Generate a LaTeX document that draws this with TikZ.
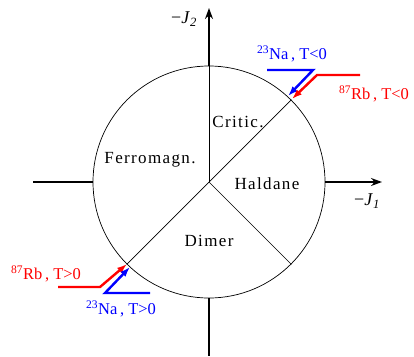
\documentclass[tikz,border=0pt]{standalone}
\usepackage{fontspec}
\setmainfont{Liberation Serif}
\usetikzlibrary{arrows.meta}
\tikzset{
  axis/.style={line width=1.5pt, black},
  axisarrow/.style={axis, -{Stealth[length=11pt,width=8pt]}},
  thin/.style={line width=0.7pt, black},
  phase/.style={font=\fontsize{17}{17}\selectfont\addfontfeatures{LetterSpace=8}, inner sep=0pt},
  lbl/.style={font=\fontsize{16.5}{16.5}\selectfont, inner sep=0pt},
  axlbl/.style={font=\fontsize{18}{18}\selectfont, inner sep=0pt},
  colarrow/.style={line width=2.4pt, -{Latex[length=10pt,width=7pt]}},
}
\begin{document}
\begin{tikzpicture}[x=1pt,y=-1pt]
\useasboundingbox (0,0) rectangle (414,356);
\coordinate (O) at (209,182);
\node[draw, thin, circle, minimum size=232pt, inner sep=0pt] (C) at (O) {};
% axes
\coordinate (xl) at (33,182);
\coordinate (xr) at (382,182);
\coordinate (yt) at (209,8);
\coordinate (yb) at (209,356);
\draw[axis] (xl) -- (C.west);
\draw[axisarrow] (C.east) -- (xr);
\draw[axis] (C.south) -- (yb);
\draw[axisarrow] (C.north) -- (yt);
% phase boundaries
\draw[thin] (O) -- (C.north);
\draw[thin] (C.south west) -- (C.north east);
\draw[thin] (O) -- (C.south east);
% phase labels
\node[phase] (crit) at (238,122) {Critic.};
\node[phase] (ferro) at (150,160) {Ferromagn.};
\node[phase] (hald) at (267,184) {Haldane};
\node[phase] (dim) at (209,241) {Dimer};
% axis labels
\node[axlbl] (j2) at (184,19) {−\textit{J}\textsubscript{\textit{2}}};
\node[axlbl] (j1) at (367,201) {−\textit{J}\textsubscript{\textit{1}}};
% colored arrows upper right
\coordinate (na1a) at (267,70);
\coordinate (na1b) at (313,70);
\coordinate (na1t) at (288,96);
\coordinate (rb1a) at (360,75);
\coordinate (rb1b) at (317,75);
\coordinate (rb1t) at (292,99);
\draw[colarrow, blue] (na1a) -- (na1b) -- (na1t);
\draw[colarrow, red] (rb1a) -- (rb1b) -- (rb1t);
\node[lbl, blue] (na1) at (292,54) {\textsuperscript{23}Na\,, T<0};
\node[lbl, red] (rb1) at (374,94) {\textsuperscript{87}Rb\,, T<0};
% colored arrows lower left
\coordinate (rb2a) at (58,287);
\coordinate (rb2b) at (100,287);
\coordinate (rb2t) at (127,264);
\coordinate (na2a) at (150,293);
\coordinate (na2b) at (105,293);
\coordinate (na2t) at (130,267);
\draw[colarrow, red] (rb2a) -- (rb2b) -- (rb2t);
\draw[colarrow, blue] (na2a) -- (na2b) -- (na2t);
\node[lbl, red] (rb2) at (46,274) {\textsuperscript{87}Rb\,, T>0};
\node[lbl, blue] (na2) at (121,309) {\textsuperscript{23}Na\,, T>0};
\end{tikzpicture}
\end{document}
